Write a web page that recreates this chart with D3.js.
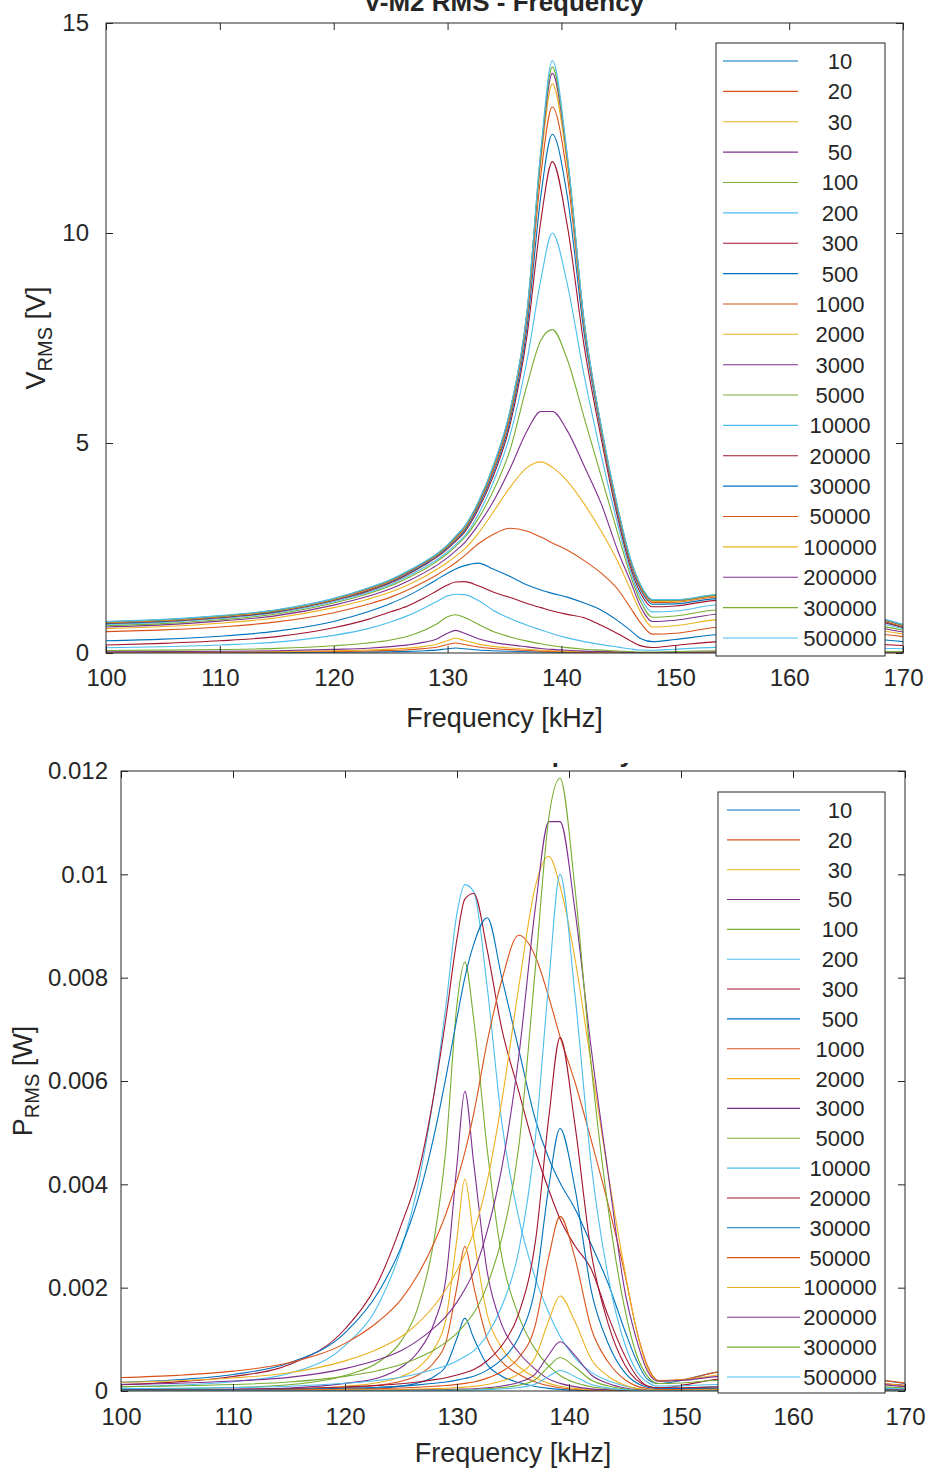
<!DOCTYPE html>
<html><head><meta charset="utf-8">
<script src="https://cdn.jsdelivr.net/npm/d3@7"></script>
<style>
body{margin:0;background:#fff;}
svg{display:block;}
text{font-family:"Liberation Sans",Arial,Helvetica,sans-serif;fill:#262626;}
</style></head>
<body>
<svg id="chart" width="930" height="1472"></svg>
<script>
// ---------------- DATA ----------------
const freqKHz = [100,105,110,115,120,123,125,126.5,128,129,130,130.7,131.5,132.7,134,135.5,137,138.2,139.2,140.5,142,143.5,145,146,147,148,150,154,160,165,170];
const loadLabels = ["10","20","30","50","100","200","300","500","1000","2000","3000","5000","10000","20000","30000","50000","100000","200000","300000","500000"];
const xTicks = [100,110,120,130,140,150,160,170];
const vTicks = [0,5,10,15];
const pTicks = [0,0.002,0.004,0.006,0.008,0.01,0.012];
const topTitle = "V-M2 RMS - Frequency";
const bottomTitle = "P RMS - Frequency";

// V_RMS [V] per load resistance
const vRms10 = [0.0053,0.0065,0.0083,0.0112,0.0177,0.0236,0.0307,0.039,0.053,0.068,0.1,0.118,0.1,0.071,0.053,0.04,0.0295,0.0224,0.0177,0.013,0.0094,0.0071,0.0047,0.0035,0.0024,0.0024,0.0035,0.0053,0.0053,0.0047,0.0035];
const vRms20 = [0.0107,0.013,0.0166,0.0225,0.0356,0.0474,0.0616,0.078,0.107,0.137,0.201,0.237,0.201,0.142,0.107,0.081,0.059,0.045,0.0356,0.026,0.019,0.0142,0.0095,0.0071,0.0047,0.0047,0.0071,0.0107,0.0107,0.0095,0.0071];
const vRms30 = [0.0158,0.0193,0.0246,0.0333,0.0527,0.0702,0.0913,0.116,0.158,0.204,0.298,0.351,0.298,0.211,0.158,0.119,0.088,0.0667,0.0527,0.0386,0.0281,0.0211,0.014,0.0105,0.007,0.007,0.0105,0.0158,0.0158,0.014,0.0105];
const vRms50 = [0.027,0.0323,0.0404,0.0539,0.0862,0.113,0.151,0.194,0.259,0.329,0.469,0.539,0.469,0.34,0.253,0.194,0.146,0.108,0.0862,0.0647,0.0458,0.035,0.0243,0.0178,0.0119,0.0119,0.0178,0.027,0.027,0.0243,0.0178];
const vRms100 = [0.059,0.068,0.082,0.109,0.173,0.237,0.31,0.401,0.547,0.683,0.865,0.911,0.847,0.683,0.51,0.383,0.282,0.219,0.173,0.128,0.091,0.068,0.046,0.035,0.024,0.024,0.035,0.053,0.053,0.046,0.035];
const vRms200 = [0.125,0.15,0.19,0.26,0.42,0.58,0.74,0.89,1.08,1.22,1.36,1.4,1.39,1.25,1.02,0.82,0.66,0.55,0.46,0.36,0.27,0.2,0.14,0.1,0.07,0.065,0.09,0.14,0.15,0.13,0.1];
const vRms300 = [0.19,0.23,0.29,0.39,0.6,0.8,0.98,1.12,1.32,1.47,1.62,1.69,1.7,1.6,1.45,1.32,1.18,1.08,1.0,0.92,0.84,0.66,0.45,0.3,0.17,0.13,0.18,0.27,0.28,0.24,0.18];
const vRms500 = [0.29,0.33,0.4,0.52,0.75,0.98,1.18,1.36,1.58,1.74,1.9,2.0,2.08,2.14,2.0,1.82,1.62,1.5,1.42,1.33,1.19,1.02,0.76,0.55,0.34,0.27,0.32,0.44,0.45,0.38,0.27];
const vRms1000 = [0.51,0.55,0.62,0.74,0.96,1.16,1.33,1.5,1.7,1.85,2.02,2.15,2.32,2.6,2.82,2.97,2.9,2.76,2.62,2.45,2.2,1.9,1.5,1.1,0.7,0.45,0.47,0.62,0.64,0.54,0.39];
const vRms2000 = [0.58,0.63,0.71,0.84,1.08,1.28,1.45,1.62,1.82,1.98,2.16,2.3,2.48,2.85,3.35,3.95,4.42,4.55,4.42,4.1,3.55,2.9,2.15,1.55,0.95,0.62,0.65,0.8,0.82,0.66,0.45];
const vRms3000 = [0.62,0.67,0.76,0.89,1.14,1.35,1.53,1.71,1.92,2.08,2.27,2.43,2.63,3.05,3.6,4.4,5.3,5.75,5.75,5.3,4.45,3.55,2.4,1.75,1.08,0.75,0.78,0.93,0.94,0.74,0.5];
const vRms5000 = [0.65,0.7,0.79,0.93,1.19,1.41,1.6,1.79,2.0,2.17,2.37,2.54,2.75,3.2,3.85,4.85,6.4,7.45,7.7,7.0,5.6,4.2,2.8,1.9,1.2,0.85,0.88,1.03,1.02,0.8,0.54];
const vRms10000 = [0.68,0.73,0.82,0.96,1.22,1.44,1.63,1.83,2.05,2.21,2.41,2.58,2.79,3.3,4.05,5.2,7.0,8.9,10.0,8.8,6.6,4.7,3.0,2.0,1.3,0.98,1.0,1.15,1.12,0.88,0.58];
const vRms20000 = [0.7,0.75,0.84,0.98,1.25,1.47,1.67,1.87,2.1,2.27,2.48,2.66,2.88,3.42,4.2,5.45,7.6,10.3,11.7,10.2,7.3,5.1,3.15,2.1,1.4,1.1,1.12,1.26,1.22,0.95,0.61];
const vRms30000 = [0.71,0.76,0.85,0.99,1.26,1.49,1.69,1.89,2.12,2.29,2.51,2.69,2.92,3.48,4.28,5.55,7.8,10.9,12.35,10.9,7.6,5.25,3.25,2.18,1.48,1.16,1.17,1.3,1.25,0.97,0.62];
const vRms50000 = [0.72,0.77,0.86,1.0,1.27,1.5,1.71,1.91,2.14,2.31,2.54,2.72,2.96,3.53,4.35,5.65,8.0,11.4,13.0,11.4,7.75,5.3,3.3,2.22,1.53,1.2,1.21,1.34,1.29,0.99,0.63];
const vRms100000 = [0.73,0.78,0.87,1.01,1.28,1.52,1.72,1.92,2.15,2.32,2.55,2.74,2.98,3.56,4.4,5.72,8.1,11.7,13.55,11.65,7.82,5.34,3.35,2.26,1.56,1.23,1.23,1.36,1.31,1.01,0.65];
const vRms200000 = [0.74,0.79,0.88,1.02,1.29,1.53,1.73,1.93,2.16,2.33,2.56,2.76,3.0,3.58,4.42,5.76,8.15,11.85,13.8,11.8,7.86,5.36,3.37,2.28,1.58,1.25,1.25,1.38,1.33,1.03,0.66];
const vRms300000 = [0.74,0.79,0.88,1.02,1.29,1.54,1.74,1.94,2.17,2.34,2.57,2.77,3.01,3.59,4.44,5.78,8.18,11.95,13.95,11.85,7.88,5.38,3.39,2.29,1.59,1.26,1.26,1.39,1.34,1.04,0.67];
const vRms500000 = [0.75,0.8,0.89,1.03,1.3,1.55,1.75,1.95,2.18,2.35,2.58,2.78,3.02,3.6,4.45,5.8,8.2,12.0,14.1,11.9,7.9,5.4,3.4,2.3,1.6,1.27,1.27,1.4,1.35,1.05,0.68];

// P_RMS [W] per load resistance
const pRms10 = [2.8e-6,4.2e-6,6.9e-6,1.27e-5,3.2e-5,5.6e-5,9.5e-5,1.54e-4,2.86e-4,4.74e-4,1.02e-3,1.41e-3,1.02e-3,5.1e-4,2.86e-4,1.63e-4,8.8e-5,5.1e-5,3.2e-5,1.7e-5,9e-6,5e-6,2.3e-6,1.3e-6,6e-7,6e-7,1.3e-6,2.8e-6,2.8e-6,2.3e-6,1.3e-6];
const pRms20 = [5.6e-6,8.4e-6,1.37e-5,2.5e-5,6.3e-5,1.12e-4,1.89e-4,3.05e-4,5.67e-4,9.4e-4,2.02e-3,2.8e-3,2.02e-3,1.01e-3,5.67e-4,3.24e-4,1.75e-4,1.01e-4,6.3e-5,3.4e-5,1.8e-5,1.0e-5,4.5e-6,2.5e-6,1.1e-6,1.1e-6,2.5e-6,5.6e-6,5.6e-6,4.5e-6,2.5e-6];
const pRms30 = [8.2e-6,1.23e-5,2.0e-5,3.7e-5,9.2e-5,1.64e-4,2.77e-4,4.47e-4,8.3e-4,1.38e-3,2.96e-3,4.1e-3,2.96e-3,1.48e-3,8.3e-4,4.74e-4,2.56e-4,1.48e-4,9.2e-5,5.0e-5,2.6e-5,1.5e-5,6.6e-6,3.7e-6,1.6e-6,1.6e-6,3.7e-6,8.2e-6,8.2e-6,6.6e-6,3.7e-6];
const pRms50 = [1.45e-5,2.1e-5,3.2e-5,5.8e-5,1.48e-4,2.56e-4,4.55e-4,7.5e-4,1.34e-3,2.16e-3,4.39e-3,5.8e-3,4.39e-3,2.3e-3,1.28e-3,7.5e-4,4.2e-4,2.3e-4,1.48e-4,8.4e-5,4.2e-5,2.4e-5,1.2e-5,6.4e-6,2.8e-6,2.8e-6,6.4e-6,1.45e-5,1.45e-5,1.2e-5,6.4e-6];
const pRms100 = [3.5e-5,4.6e-5,6.7e-5,1.2e-4,3.0e-4,5.6e-4,9.6e-4,1.61e-3,2.99e-3,4.67e-3,7.49e-3,8.3e-3,7.18e-3,4.67e-3,2.6e-3,1.46e-3,8.0e-4,4.8e-4,3.0e-4,1.63e-4,8.3e-5,4.6e-5,2.1e-5,1.2e-5,5.6e-6,5.6e-6,1.2e-5,2.8e-5,2.8e-5,2.1e-5,1.2e-5];
const pRms200 = [7.8e-5,1.13e-4,1.8e-4,3.4e-4,8.8e-4,1.68e-3,2.74e-3,3.96e-3,5.83e-3,7.44e-3,9.25e-3,9.8e-3,9.66e-3,7.81e-3,5.2e-3,3.36e-3,2.18e-3,1.51e-3,1.06e-3,6.5e-4,3.6e-4,2.0e-4,9.8e-5,5e-5,2.5e-5,2.1e-5,4.1e-5,9.8e-5,1.13e-4,8.5e-5,5e-5];
const pRms300 = [1.2e-4,1.76e-4,2.8e-4,5.07e-4,1.2e-3,2.13e-3,3.2e-3,4.18e-3,5.81e-3,7.2e-3,8.75e-3,9.52e-3,9.63e-3,8.53e-3,7.01e-3,5.81e-3,4.64e-3,3.89e-3,3.33e-3,2.82e-3,2.35e-3,1.45e-3,6.75e-4,3.0e-4,9.6e-5,5.6e-5,1.08e-4,2.43e-4,2.61e-4,1.92e-4,1.08e-4];
const pRms500 = [1.68e-4,2.18e-4,3.2e-4,5.41e-4,1.125e-3,1.92e-3,2.78e-3,3.7e-3,4.99e-3,6.06e-3,7.22e-3,8.0e-3,8.65e-3,9.16e-3,8.0e-3,6.62e-3,5.25e-3,4.5e-3,4.03e-3,3.54e-3,2.83e-3,2.08e-3,1.16e-3,6.05e-4,2.31e-4,1.46e-4,2.05e-4,3.87e-4,4.05e-4,2.89e-4,1.46e-4];
const pRms1000 = [2.6e-4,3.03e-4,3.84e-4,5.48e-4,9.22e-4,1.35e-3,1.77e-3,2.25e-3,2.89e-3,3.42e-3,4.08e-3,4.62e-3,5.38e-3,6.76e-3,7.95e-3,8.82e-3,8.41e-3,7.62e-3,6.86e-3,6.0e-3,4.84e-3,3.61e-3,2.25e-3,1.21e-3,4.9e-4,2.03e-4,2.21e-4,3.84e-4,4.1e-4,2.92e-4,1.52e-4];
const pRms2000 = [1.68e-4,1.98e-4,2.52e-4,3.53e-4,5.83e-4,8.19e-4,1.05e-3,1.31e-3,1.66e-3,1.96e-3,2.33e-3,2.65e-3,3.08e-3,4.06e-3,5.61e-3,7.8e-3,9.77e-3,1.035e-2,9.77e-3,8.41e-3,6.3e-3,4.2e-3,2.31e-3,1.2e-3,4.5e-4,1.92e-4,2.11e-4,3.2e-4,3.36e-4,2.18e-4,1.01e-4];
const pRms3000 = [1.28e-4,1.5e-4,1.93e-4,2.64e-4,4.33e-4,6.08e-4,7.8e-4,9.75e-4,1.23e-3,1.44e-3,1.72e-3,1.97e-3,2.31e-3,3.1e-3,4.32e-3,6.45e-3,9.36e-3,1.102e-2,1.102e-2,9.36e-3,6.6e-3,4.2e-3,1.92e-3,1.02e-3,3.89e-4,1.88e-4,2.03e-4,2.88e-4,2.95e-4,1.83e-4,8.3e-5];
const pRms5000 = [8.45e-5,9.8e-5,1.25e-4,1.73e-4,2.83e-4,3.98e-4,5.12e-4,6.41e-4,8.0e-4,9.42e-4,1.12e-3,1.29e-3,1.51e-3,2.05e-3,2.96e-3,4.7e-3,8.19e-3,1.11e-2,1.186e-2,9.8e-3,6.27e-3,3.53e-3,1.57e-3,7.2e-4,2.88e-4,1.45e-4,1.55e-4,2.12e-4,2.08e-4,1.28e-4,5.8e-5];
const pRms10000 = [4.6e-5,5.3e-5,6.7e-5,9.2e-5,1.49e-4,2.07e-4,2.66e-4,3.35e-4,4.2e-4,4.88e-4,5.81e-4,6.66e-4,7.78e-4,1.09e-3,1.64e-3,2.7e-3,4.9e-3,7.92e-3,1.0e-2,7.74e-3,4.36e-3,2.21e-3,9.0e-4,4.0e-4,1.69e-4,9.6e-5,1.0e-4,1.32e-4,1.25e-4,7.7e-5,3.4e-5];
const pRms20000 = [2.45e-5,2.8e-5,3.5e-5,4.8e-5,7.8e-5,1.08e-4,1.39e-4,1.75e-4,2.2e-4,2.58e-4,3.08e-4,3.54e-4,4.15e-4,5.85e-4,8.8e-4,1.49e-3,2.89e-3,5.3e-3,6.84e-3,5.2e-3,2.66e-3,1.3e-3,5.0e-4,2.2e-4,9.8e-5,6.0e-5,6.3e-5,7.9e-5,7.4e-5,4.5e-5,1.9e-5];
const pRms30000 = [1.68e-5,1.93e-5,2.4e-5,3.3e-5,5.3e-5,7.4e-5,9.5e-5,1.19e-4,1.5e-4,1.75e-4,2.1e-4,2.41e-4,2.84e-4,4.04e-4,6.1e-4,1.03e-3,2.03e-3,3.96e-3,5.08e-3,3.96e-3,1.93e-3,9.2e-4,3.5e-4,1.58e-4,7.3e-5,4.5e-5,4.6e-5,5.6e-5,5.2e-5,3.1e-5,1.3e-5];
const pRms50000 = [1.04e-5,1.19e-5,1.48e-5,2.0e-5,3.2e-5,4.5e-5,5.8e-5,7.3e-5,9.2e-5,1.07e-4,1.29e-4,1.48e-4,1.75e-4,2.49e-4,3.78e-4,6.38e-4,1.28e-3,2.6e-3,3.38e-3,2.6e-3,1.2e-3,5.6e-4,2.18e-4,9.9e-5,4.7e-5,2.9e-5,2.9e-5,3.6e-5,3.3e-5,2.0e-5,7.9e-6];
const pRms100000 = [5.3e-6,6.1e-6,7.6e-6,1.02e-5,1.64e-5,2.31e-5,2.96e-5,3.69e-5,4.62e-5,5.38e-5,6.5e-5,7.5e-5,8.9e-5,1.27e-4,1.94e-4,3.27e-4,6.56e-4,1.37e-3,1.84e-3,1.36e-3,6.1e-4,2.85e-4,1.12e-4,5.1e-5,2.4e-5,1.5e-5,1.5e-5,1.8e-5,1.7e-5,1.0e-5,4.2e-6];
const pRms200000 = [2.7e-6,3.1e-6,3.9e-6,5.2e-6,8.3e-6,1.17e-5,1.5e-5,1.86e-5,2.33e-5,2.71e-5,3.28e-5,3.81e-5,4.5e-5,6.4e-5,9.8e-5,1.66e-4,3.32e-4,7.02e-4,9.52e-4,6.96e-4,3.09e-4,1.44e-4,5.7e-5,2.6e-5,1.25e-5,7.8e-6,7.8e-6,9.5e-6,8.8e-6,5.3e-6,2.2e-6];
const pRms300000 = [1.8e-6,2.1e-6,2.6e-6,3.5e-6,5.5e-6,7.9e-6,1.0e-5,1.25e-5,1.57e-5,1.83e-5,2.2e-5,2.56e-5,3.02e-5,4.3e-5,6.6e-5,1.11e-4,2.23e-4,4.76e-4,6.49e-4,4.68e-4,2.07e-4,9.6e-5,3.8e-5,1.75e-5,8.4e-6,5.3e-6,5.3e-6,6.4e-6,6.0e-6,3.6e-6,1.5e-6];
const pRms500000 = [1.1e-6,1.3e-6,1.6e-6,2.1e-6,3.4e-6,4.8e-6,6.1e-6,7.6e-6,9.5e-6,1.1e-5,1.33e-5,1.55e-5,1.82e-5,2.6e-5,4.0e-5,6.7e-5,1.34e-4,2.88e-4,3.98e-4,2.83e-4,1.25e-4,5.8e-5,2.3e-5,1.06e-5,5.1e-6,3.2e-6,3.2e-6,3.9e-6,3.6e-6,2.2e-6,9e-7];

const vSeries = [vRms10,vRms20,vRms30,vRms50,vRms100,vRms200,vRms300,vRms500,vRms1000,vRms2000,vRms3000,vRms5000,vRms10000,vRms20000,vRms30000,vRms50000,vRms100000,vRms200000,vRms300000,vRms500000];
const pSeries = [pRms10,pRms20,pRms30,pRms50,pRms100,pRms200,pRms300,pRms500,pRms1000,pRms2000,pRms3000,pRms5000,pRms10000,pRms20000,pRms30000,pRms50000,pRms100000,pRms200000,pRms300000,pRms500000];

const matlabColors = ["#0072BD","#D95319","#EDB120","#7E2F8E","#77AC30","#4DBEEE","#A2142F"];

// ---------------- DRAW ----------------
const svg = d3.select("#chart");
svg.append("rect").attr("width",930).attr("height",1472).attr("fill","#fff");
const FONT = '"Liberation Sans",Arial,Helvetica,sans-serif';

function panel(cfg){
  const g = svg.append("g");
  const x = d3.scaleLinear().domain([100,170]).range([cfg.left,cfg.right]);
  const y = d3.scaleLinear().domain(cfg.yDomain).range([cfg.bottom,cfg.top]);
  const defs = svg.append("defs");
  const clipId = "clip"+cfg.id;
  defs.append("clipPath").attr("id",clipId)
    .append("rect").attr("x",cfg.left).attr("y",cfg.top)
    .attr("width",cfg.right-cfg.left).attr("height",cfg.bottom-cfg.top);

  // title (only its lower part is visible, as in the reference)
  const tClip = "tclip"+cfg.id;
  defs.append("clipPath").attr("id",tClip)
    .append("rect").attr("x",0).attr("y",cfg.titleClipTop).attr("width",930).attr("height",cfg.top-cfg.titleClipTop);
  g.append("text").attr("clip-path",`url(#${tClip})`)
    .attr("x",cfg.titleX).attr("y",cfg.titleY).attr("text-anchor",cfg.titleAnchor)
    .attr("font-size",26).attr("font-weight","bold").attr("fill","#000").text(cfg.title);

  // lines
  const line = d3.line().x((d,i)=>x(freqKHz[i])).y(d=>y(d)).curve(d3.curveMonotoneX);
  g.append("g").attr("clip-path",`url(#${clipId})`)
    .selectAll("path").data(cfg.series).join("path")
    .attr("d",d=>line(d)).attr("fill","none")
    .attr("stroke",(d,i)=>matlabColors[i%7]).attr("stroke-width",1.1);

  // axes
  const axFont = 24;
  const xb = g.append("g").attr("transform",`translate(0,${cfg.bottom})`)
    .call(d3.axisBottom(x).tickValues(xTicks).tickSize(-7).tickSizeOuter(0).tickPadding(cfg.xPad));
  const xt = g.append("g").attr("transform",`translate(0,${cfg.top})`)
    .call(d3.axisTop(x).tickValues(xTicks).tickSize(-7).tickSizeOuter(0).tickFormat(""));
  const yl = g.append("g").attr("transform",`translate(${cfg.left},0)`)
    .call(d3.axisLeft(y).tickValues(cfg.yTicks).tickSize(-7).tickSizeOuter(0).tickPadding(cfg.yPad).tickFormat(cfg.yFmt));
  const yr = g.append("g").attr("transform",`translate(${cfg.right},0)`)
    .call(d3.axisRight(y).tickValues(cfg.yTicks).tickSize(-7).tickSizeOuter(0).tickFormat(""));
  [xb,xt,yl,yr].forEach(a=>{
    a.select(".domain").remove();
    a.selectAll(".tick line").attr("stroke","#262626");
    a.selectAll("text").attr("font-size",axFont).attr("fill","#262626").style("font-family",FONT);
  });
  g.append("rect").attr("x",cfg.left).attr("y",cfg.top)
    .attr("width",cfg.right-cfg.left).attr("height",cfg.bottom-cfg.top)
    .attr("fill","none").attr("stroke","#262626").attr("stroke-width",1);

  // axis labels
  g.append("text").attr("x",(cfg.left+cfg.right)/2).attr("y",cfg.xLabelY)
    .attr("text-anchor","middle").attr("font-size",27).text("Frequency [kHz]");
  const yt = g.append("text").attr("transform",`translate(${cfg.yLabelX},${(cfg.top+cfg.bottom)/2}) rotate(-90)`)
    .attr("text-anchor","middle").attr("font-size",27);
  yt.append("tspan").text(cfg.yLabelMain);
  yt.append("tspan").attr("font-size",20).attr("dy",7).text("RMS");
  yt.append("tspan").attr("dy",-7).text(" "+cfg.yLabelUnit);

  // legend
  const L = cfg.legend;
  const lg = g.append("g");
  lg.append("rect").attr("x",L.x0).attr("y",L.y0).attr("width",L.x1-L.x0).attr("height",L.y1-L.y0)
    .attr("fill","#fff").attr("stroke","#262626").attr("stroke-width",1);
  const ly = d3.scalePoint().domain(loadLabels).range([L.first,L.last]);
  const items = lg.selectAll("g.item").data(loadLabels).join("g").attr("class","item")
    .attr("transform",d=>`translate(0,${ly(d)})`);
  items.append("line").attr("x1",L.lx0).attr("x2",L.lx1).attr("y1",0).attr("y2",0)
    .attr("stroke",(d,i)=>matlabColors[i%7]).attr("stroke-width",1.1);
  items.append("text").attr("x",L.tx).attr("y",0).attr("dy","0.36em").attr("text-anchor","middle")
    .attr("font-size",22).text(d=>d);
}

panel({id:"v", left:106, right:903, top:23, bottom:653, yDomain:[0,15], yTicks:vTicks,
  yFmt:d3.format("d"), xPad:16, yPad:17, series:vSeries,
  title:topTitle, titleX:504, titleY:11, titleAnchor:"middle", titleClipTop:0,
  xLabelY:727, yLabelX:45, yLabelMain:"V", yLabelUnit:"[V]",
  legend:{x0:716,x1:885,y0:43,y1:656,first:61,last:638,lx0:723,lx1:798,tx:840}});

panel({id:"p", left:121, right:905, top:771, bottom:1391, yDomain:[0,0.012], yTicks:pTicks,
  yFmt:d=>d===0?"0":d3.format("")(+d.toFixed(3)), xPad:17, yPad:13, series:pSeries,
  title:bottomTitle, titleX:634, titleY:762, titleAnchor:"end", titleClipTop:763,
  xLabelY:1462, yLabelX:32, yLabelMain:"P", yLabelUnit:"[W]",
  legend:{x0:718,x1:885,y0:792,y1:1393,first:810,last:1377,lx0:727,lx1:800,tx:840}});
</script>
</body></html>
